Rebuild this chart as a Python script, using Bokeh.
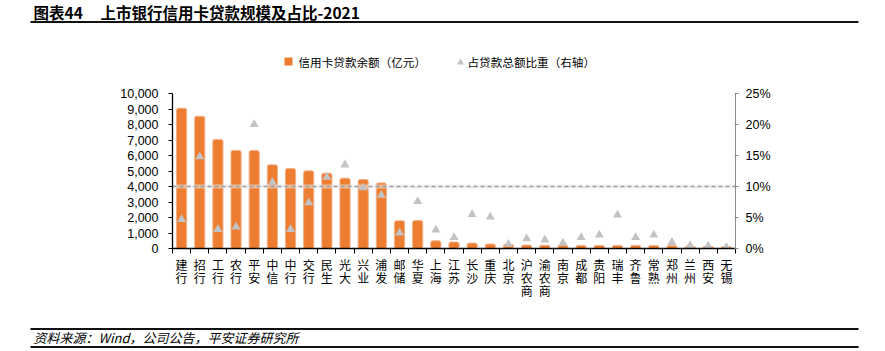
from bokeh.plotting import figure
from bokeh.layouts import column
from bokeh.models import (Range1d, LinearAxis, FixedTicker, NumeralTickFormatter,
                          PrintfTickFormatter)
from bokeh.core.properties import value
from bokeh.embed import file_html
from bokeh.resources import INLINE

# ---------------- data ----------------
banks = ["建行", "招行", "工行", "农行", "平安", "中信", "中行", "交行", "民生", "光大",
         "兴业", "浦发", "邮储", "华夏", "上海", "江苏", "长沙", "重庆", "北京", "沪农商",
         "渝农商", "南京", "成都", "贵阳", "瑞丰", "齐鲁", "常熟", "郑州", "兰州", "西安", "无锡"]
loan_balance = [9050, 8530, 7040, 6330, 6330, 5400, 5160, 5010, 4860, 4540,
                4450, 4230, 1790, 1800, 500, 420, 350, 290, 270, 220,
                210, 190, 200, 200, 200, 200, 190, 180, 140, 130, 110]
share_pct = [4.7, 14.8, 3.1, 3.5, 20.0, 10.7, 3.1, 7.4, 11.5, 13.5,
             9.8, 8.6, 2.5, 7.6, 3.0, 1.8, 5.5, 5.1, 0.7, 1.6,
             1.4, 0.9, 1.8, 2.2, 5.4, 1.8, 2.2, 1.0, 0.5, 0.4, 0.2]
left_ticks = [0, 1000, 2000, 3000, 4000, 5000, 6000, 7000, 8000, 9000, 10000]
right_ticks = [0, 5, 10, 15, 20, 25]
threshold_pct = 10
title_prefix = "图表44"
title_text = "上市银行信用卡贷款规模及占比-2021"
legend_labels = ["信用卡贷款余额（亿元）", "占贷款总额比重（右轴）"]
source_text = "资料来源：Wind，公司公告，平安证券研究所"

ORANGE = "#ED7D31"
GRAY = "#C3C3C3"
CJK = "Noto Sans CJK SC"
LAT = "Liberation Sans"
W = 885
HEAD_H, MAIN_H, FOOT_H = 80, 240, 31


def blank(h):
    f = figure(width=W, height=h, output_backend="svg", toolbar_location=None,
               x_range=Range1d(0, W), y_range=Range1d(h, 0),
               x_axis_type=None, y_axis_type=None,
               min_border_left=0, min_border_right=0, min_border_top=0, min_border_bottom=0)
    f.outline_line_color = None
    f.xgrid.visible = False
    f.ygrid.visible = False
    return f


# ---------------- header: title + legend ----------------
head = blank(HEAD_H)
head.text(x=[33], y=[11], text=[title_prefix], text_font=value(CJK), text_font_style="bold",
          text_font_size="15.5px", text_baseline="middle", text_color="black")
head.text(x=[100], y=[11], text=[title_text], text_font=value(CJK), text_font_style="bold",
          text_font_size="15.5px", text_baseline="middle", text_color="black")
head.line(x=[30, 858], y=[21.5, 21.5], line_color="#111111", line_width=2)
head.rect(x=[288], y=[61], width=8, height=8, fill_color=ORANGE, line_color=None)
head.text(x=[298], y=[61.5], text=[legend_labels[0]], text_font=value(CJK),
          text_font_size="11.6px", text_baseline="middle", text_color="black")
head.scatter(x=[460], y=[62], marker="triangle", size=7, fill_color=GRAY, line_color=None)
head.text(x=[467], y=[61.5], text=[legend_labels[1]], text_font=value(CJK),
          text_font_size="11.6px", text_baseline="middle", text_color="black")

# ---------------- main chart ----------------
n = len(banks)
xc = [i + 0.5 for i in range(n)]

p = figure(width=W, height=MAIN_H, output_backend="svg", toolbar_location=None,
           x_range=Range1d(0, n), y_range=Range1d(left_ticks[0], left_ticks[-1]),
           x_axis_type=None, y_axis_type=None,
           min_border_left=172, min_border_right=150, min_border_top=13, min_border_bottom=72)
p.extra_y_ranges = {"pct": Range1d(right_ticks[0], right_ticks[-1])}
p.outline_line_color = None

yl = LinearAxis(ticker=FixedTicker(ticks=left_ticks), formatter=NumeralTickFormatter(format="0,0"))
yl.axis_line_color = "black"
yl.axis_line_width = 1.3
yl.major_tick_out = 4
yl.major_tick_in = 0
yl.major_tick_line_color = "black"
yl.minor_tick_line_color = None
yl.major_label_text_font = LAT
yl.major_label_text_font_size = "12.5px"
yl.major_label_text_color = "black"
yl.major_label_standoff = 10
p.add_layout(yl, "left")

yr = LinearAxis(y_range_name="pct", ticker=FixedTicker(ticks=right_ticks),
                formatter=PrintfTickFormatter(format="%d%%"))
yr.axis_line_color = "#8C8C8C"
yr.axis_line_width = 1
yr.major_tick_out = 3
yr.major_tick_in = 1
yr.major_tick_line_color = "#8C8C8C"
yr.minor_tick_line_color = None
yr.major_label_text_font = LAT
yr.major_label_text_font_size = "12.5px"
yr.major_label_text_color = "black"
yr.major_label_standoff = 7
p.add_layout(yr, "right")

xa = LinearAxis(ticker=FixedTicker(ticks=xc, minor_ticks=list(range(n + 1))),
                major_label_overrides={float(x): "\n".join(b) for x, b in zip(xc, banks)})
xa.axis_line_color = "black"
xa.axis_line_width = 1.3
xa.major_tick_line_color = None
xa.major_tick_out = 0
xa.major_tick_in = 0
xa.minor_tick_out = 5
xa.minor_tick_in = 0
xa.minor_tick_line_color = "black"
xa.major_label_text_font = CJK
xa.major_label_text_font_size = "12px"
xa.major_label_text_color = "black"
xa.major_label_standoff = 2
xa.major_label_text_line_height = 0.78
p.add_layout(xa, "below")

bars = p.vbar(x=xc, top=loan_balance, width=0.56, fill_color=ORANGE,
              line_color="#F4B088", line_width=1, border_radius=2)
p.line(x=[0, n], y=[threshold_pct, threshold_pct], y_range_name="pct",
       line_color="#E6E6E6", line_width=4, line_alpha=0.6)
p.line(x=[0, n], y=[threshold_pct, threshold_pct], y_range_name="pct",
       line_color="#9E9E9E", line_dash="4 3", line_width=1.5)
p.scatter(x=xc, y=share_pct, y_range_name="pct", marker="triangle", size=9,
          fill_color=GRAY, line_color=None)

# ---------------- footer ----------------
foot = blank(FOOT_H)
foot.line(x=[30, 858], y=[8.5, 8.5], line_color="#111111", line_width=1.8)
foot.line(x=[30, 858], y=[26.5, 26.5], line_color="#111111", line_width=1.8)
foot.text(x=[33], y=[17], text=[source_text], text_font=value(CJK), text_font_style="italic",
          text_font_size="13px", text_baseline="middle", text_color="black")

layout = column(column(head), column(p), column(foot), spacing=0)
open("out.html", "w").write(file_html(layout, INLINE))
